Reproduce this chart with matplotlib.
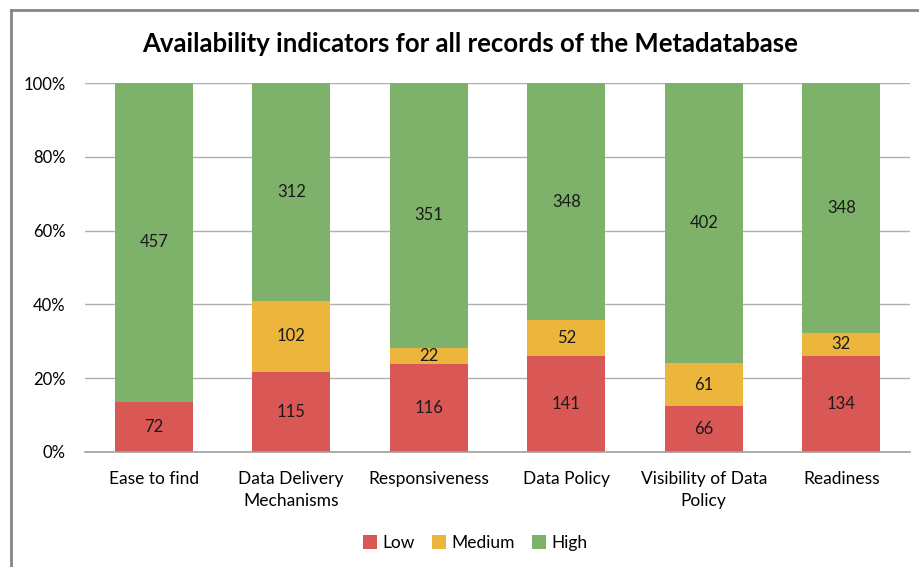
import numpy as np
import matplotlib.pyplot as plt
from matplotlib.lines import Line2D
from matplotlib.ticker import PercentFormatter

# data
categories = ['Ease to find', 'Data Delivery\nMechanisms', 'Responsiveness',
              'Data Policy', 'Visibility of Data\nPolicy', 'Readiness']
low = [72, 115, 116, 141, 66, 134]
medium = [0, 102, 22, 52, 61, 32]
high = [457, 312, 351, 348, 402, 348]

series = [('Low', low, '#D95856'), ('Medium', medium, '#EBB63B'), ('High', high, '#7EB26B')]

plt.rcParams['font.family'] = ['Lato', 'DejaVu Sans']

fig = plt.figure(figsize=(9.19, 5.67), dpi=100)
ax = fig.add_axes([85 / 919, 115 / 567, 825 / 919, 369 / 567])

totals = np.array(low) + np.array(medium) + np.array(high)
x = np.arange(len(categories))
bottom = np.zeros(len(categories))
for name, vals, col in series:
    pct = np.array(vals) / totals * 100
    ax.bar(x, pct, bottom=bottom, width=0.57, color=col, label=name, zorder=2)
    for xi, b, p, v in zip(x, bottom, pct, vals):
        if v > 0:
            ax.text(xi, b + p / 2, str(v), ha='center', va='center', fontsize=12, color='#1a1a1a')
    bottom += pct

ax.set_xlim(-0.5, len(categories) - 0.5)
ax.set_ylim(0, 100)
ax.set_yticks(np.arange(0, 101, 20))
ax.yaxis.set_major_formatter(PercentFormatter(decimals=0))
ax.set_xticks(x)
ax.set_xticklabels(categories, fontsize=12.5, linespacing=1.45)
ax.tick_params(axis='y', labelsize=12, length=0, pad=14)
ax.tick_params(axis='x', length=0, pad=14)
ax.grid(axis='y', color='#b0b0b0', linewidth=1, zorder=0)
for s in ['top', 'right', 'left']:
    ax.spines[s].set_visible(False)
ax.spines['bottom'].set_color('#a0a0a0')
ax.spines['bottom'].set_linewidth(1.2)

fig.text(470 / 919, 1 - 44 / 567, 'Availability indicators for all records of the Metadatabase',
         ha='center', va='center', fontsize=18.5, fontweight='bold')

ax.legend(loc='center', bbox_to_anchor=(475 / 919, 24 / 567), bbox_transform=fig.transFigure,
          ncol=3, frameon=False, fontsize=12.5, handlelength=0.8, handleheight=0.8,
          handletextpad=0.3, columnspacing=1.0)

# chart border (top and left visible)
fig.add_artist(Line2D([11 / 919, 11 / 919], [0, 1 - 10 / 567], transform=fig.transFigure,
                      color='#868686', linewidth=2))
fig.add_artist(Line2D([11 / 919, 1], [1 - 10 / 567, 1 - 10 / 567], transform=fig.transFigure,
                      color='#868686', linewidth=2))

fig.savefig('out.png', dpi=100)
